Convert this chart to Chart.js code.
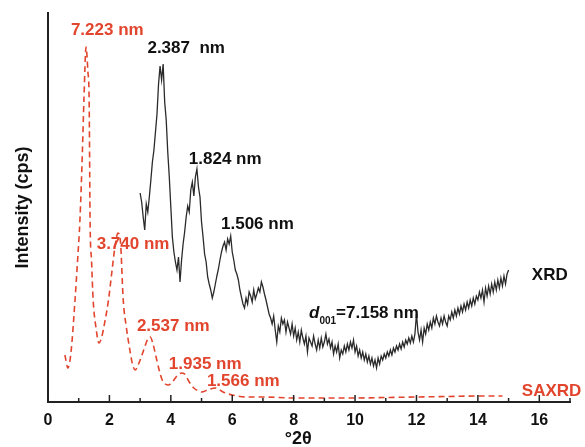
<!DOCTYPE html>
<html>
<head>
<meta charset="utf-8">
<script src="https://cdn.jsdelivr.net/npm/chart.js@4/dist/chart.umd.min.js"></script>
<style>
  body { margin: 0; background: #fff; }
  #wrap { width: 585px; height: 447px; }
</style>
</head>
<body>
<div id="wrap"><canvas id="chart" width="585" height="447"></canvas></div>
<script>
// ================= DATA =================
// XRD scan, 3.00 to 15.00 °2θ, step 0.05
const xrdStart = 3.0;
const xrdStep = 0.05;
const xrdCounts = [
  209, 200, 185, 172, 198, 190, 205, 222, 240, 252, 270, 288, 318, 336, 322, 338, 300, 282, 250, 225,
  195, 165, 150, 140, 132, 145, 120, 142, 158, 170, 185, 196, 190, 212, 220, 206, 225, 233, 215, 205,
  180, 165, 148, 140, 125, 118, 112, 104, 110, 118, 126, 133, 142, 150, 156, 160, 152, 163, 158, 166,
  150, 142, 132, 128, 122, 112, 105, 98, 94, 104, 98, 110, 106, 100, 112, 103, 108, 114, 110, 120,
  115, 108, 102, 95, 88, 84, 78, 86, 72, 60, 76, 70, 84, 78, 82, 70, 80, 74, 68, 78,
  66, 74, 62, 70, 60, 72, 64, 58, 66, 50, 64, 60, 56, 66, 58, 52, 62, 54, 64, 55,
  60, 68, 58, 63, 54, 60, 48, 56, 50, 58, 44, 52, 48, 56, 50, 58, 52, 60, 54, 62,
  50, 56, 46, 52, 44, 50, 42, 48, 40, 46, 38, 44, 36, 42, 34, 44, 38, 46, 42, 48,
  44, 50, 46, 52, 47, 54, 50, 56, 52, 58, 53, 60, 55, 62, 58, 64, 59, 66, 60, 68,
  88, 70, 62, 72, 60, 74, 68, 78, 72, 80, 74, 84, 78, 86, 80, 76, 84, 78, 86, 80,
  76, 86, 82, 90, 84, 92, 86, 94, 88, 96, 90, 98, 92, 100, 94, 102, 96, 104, 98, 106,
  102, 110, 104, 112, 100, 114, 106, 116, 108, 118, 110, 120, 112, 122, 114, 124, 116, 126, 118, 128,
  132
];

// SAXRD curve
const saxrdAngles = [0.55, 0.65, 0.75, 0.88, 0.96, 1.04, 1.12, 1.17, 1.24, 1.3, 1.34, 1.37, 1.42, 1.47, 1.56, 1.66,
  1.75, 1.85, 1.97, 2.08, 2.18, 2.28, 2.36, 2.45, 2.55, 2.65, 2.75, 2.84, 2.95, 3.05, 3.15, 3.25, 3.33,
  3.42, 3.52, 3.62, 3.72, 3.82, 3.92, 4.05, 4.2, 4.35, 4.45, 4.6, 4.75, 4.9, 5.0, 5.2, 5.45, 5.7, 6.0,
  6.5, 7, 8, 9, 10, 11, 12, 13, 14, 14.8];
const saxrdCounts = [47, 34, 50, 102, 140, 182, 250, 302, 355, 330, 302, 182, 140, 102, 75, 59,
  65, 80, 102, 130, 155, 169, 160, 102, 75, 55, 38, 32, 38, 46, 55, 63, 65,
  58, 45, 32, 22, 18, 17, 20, 26, 29, 28, 20, 14, 11, 10, 12, 14, 10, 7,
  5, 5, 4, 4, 4, 4.5, 5, 5.5, 6, 6];

const xTicks = [0, 2, 4, 6, 8, 10, 12, 14, 16];

// peak labels: [text, x, y, colour]
const peakLabels = [
  ["7.223 nm", 1.93, 372, "#e2452d"],
  ["3.740 nm", 2.77, 158, "#e2452d"],
  ["2.537 nm", 4.08, 76, "#e2452d"],
  ["1.935 nm", 5.12, 38, "#e2452d"],
  ["1.566 nm", 6.36, 21, "#e2452d"],
  ["2.387  nm", 4.5, 354, "#111"],
  ["1.824 nm", 5.77, 243, "#111"],
  ["1.506 nm", 6.82, 178, "#111"],
  ["XRD", 16.34, 127, "#111"],
  ["SAXRD", 16.4, 11, "#e2452d"]
];

const red = "#e2452d";

// ================= BUILD POINTS =================
const xrdData = xrdCounts.map((v, i) => ({ x: +(xrdStart + i * xrdStep).toFixed(2), y: v }));
const saxrdData = saxrdAngles.map((a, i) => ({ x: a, y: saxrdCounts[i] }));

// ================= ANNOTATIONS =================
const labelPlugin = {
  id: "labels",
  afterDatasetsDraw(chart) {
    const ctx = chart.ctx;
    const xs = chart.scales.x;
    const ys = chart.scales.y;
    ctx.save();

    // inward ticks
    ctx.strokeStyle = "#222";
    ctx.lineWidth = 1.5;
    for (let v = 0; v <= 17; v++) {
      const px = xs.getPixelForValue(v);
      const len = v % 2 === 0 ? 7 : 4;
      ctx.beginPath();
      ctx.moveTo(px, ys.bottom);
      ctx.lineTo(px, ys.bottom - len);
      ctx.stroke();
    }

    ctx.font = "bold 17px 'Liberation Sans', Arial, sans-serif";
    ctx.textAlign = "center";
    ctx.textBaseline = "middle";
    peakLabels.forEach(l => {
      ctx.fillStyle = l[3];
      ctx.fillText(l[0], xs.getPixelForValue(l[1]), ys.getPixelForValue(l[2]));
    });

    // d001 label
    let px = xs.getPixelForValue(8.5);
    const py = ys.getPixelForValue(89);
    ctx.textAlign = "left";
    ctx.fillStyle = "#111";
    ctx.font = "italic bold 17px 'Liberation Sans', Arial, sans-serif";
    ctx.fillText("d", px, py);
    px += ctx.measureText("d").width;
    ctx.font = "bold 10px 'Liberation Sans', Arial, sans-serif";
    ctx.fillText("001", px, py + 8);
    px += ctx.measureText("001").width;
    ctx.font = "bold 17px 'Liberation Sans', Arial, sans-serif";
    ctx.fillText("=7.158 nm", px, py);

    // x axis title
    ctx.textAlign = "center";
    ctx.font = "bold 18px 'Liberation Sans', Arial, sans-serif";
    ctx.fillText("°2θ", xs.getPixelForValue(8.15), ys.bottom + 37);

    ctx.restore();
  }
};

// ================= CHART =================
new Chart(document.getElementById("chart"), {
  type: "line",
  data: {
    datasets: [
      {
        label: "SAXRD",
        data: saxrdData,
        borderColor: red,
        borderWidth: 1.6,
        borderDash: [6, 4],
        pointRadius: 0,
        cubicInterpolationMode: "monotone",
        fill: false
      },
      {
        label: "XRD",
        data: xrdData,
        borderColor: "#2a2a2a",
        borderWidth: 1.3,
        pointRadius: 0,
        tension: 0,
        fill: false
      }
    ]
  },
  options: {
    responsive: false,
    animation: false,
    layout: { padding: { top: 13, right: 15, left: 0, bottom: 0 } },
    plugins: {
      legend: { display: false },
      tooltip: { enabled: false }
    },
    scales: {
      x: {
        type: "linear",
        min: 0,
        max: 17,
        afterBuildTicks: s => { s.ticks = xTicks.map(v => ({ value: v })); },
        afterFit: s => { s.height = 45; },
        grid: { display: false, drawTicks: false },
        border: { display: true, color: "#222", width: 2 },
        ticks: {
          color: "#111",
          padding: 9,
          maxRotation: 0,
          font: { family: "'Liberation Sans', Arial, sans-serif", size: 16, weight: "bold" }
        }
      },
      y: {
        min: 0,
        max: 389,
        afterFit: s => { s.width = 48; },
        grid: { display: false, drawTicks: false },
        border: { display: true, color: "#222", width: 2 },
        ticks: { display: false },
        title: {
          display: true,
          text: "Intensity (cps)",
          color: "#111",
          padding: { top: 12, bottom: 0 },
          font: { family: "'Liberation Sans', Arial, sans-serif", size: 18, weight: "bold" }
        }
      }
    }
  },
  plugins: [labelPlugin]
});
</script>
</body>
</html>
